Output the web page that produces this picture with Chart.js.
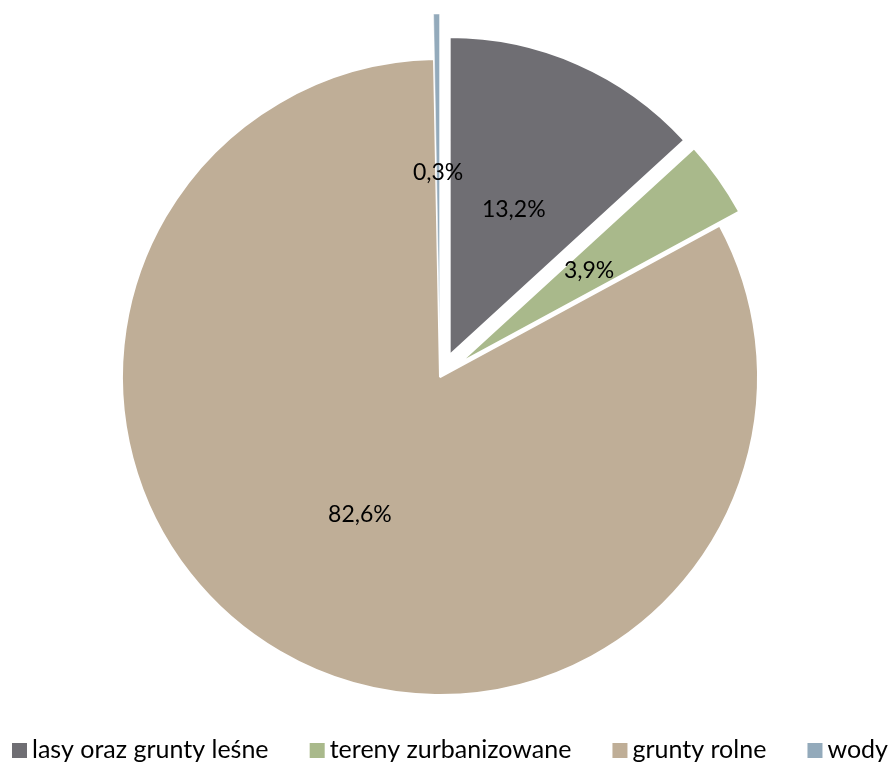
<!DOCTYPE html>
<html>
<head>
<meta charset="utf-8">
<script src="https://cdn.jsdelivr.net/npm/chart.js@4.4.1/dist/chart.umd.min.js"></script>
<style>
  html, body { margin: 0; padding: 0; background: #fff; }
  #wrap { width: 891px; height: 762px; }
</style>
</head>
<body>
<div id="wrap"><canvas id="c" width="891" height="762"></canvas></div>
<script>
// dane
const categories = ['lasy oraz grunty leśne', 'tereny zurbanizowane', 'grunty rolne', 'wody'];
const shares = [13.2, 3.9, 82.6, 0.3];
const valueLabels = ['13,2%', '3,9%', '82,6%', '0,3%'];
const sliceColors = ['#6f6e73', '#a9b98b', '#bfae97', '#93aabb'];
const sliceOffsets = [24, 24, 0, 45];
const sliceBorders = [2, 2, 2, 0.5];

const FONT = 'Lato, "Open Sans", sans-serif';

// wysuniecie wycinkow: przesuwamy srodek luku wzdluz jego dwusiecznej
// (wbudowany "offset" w v4 przesuwa tylko o 1/4 i powieksza promien)
const explode = {
  id: 'explode',
  afterDatasetUpdate(chart, args) {
    args.meta.data.forEach((arc, i) => {
      const mid = (arc.startAngle + arc.endAngle) / 2;
      arc.x += Math.cos(mid) * sliceOffsets[i];
      arc.y += Math.sin(mid) * sliceOffsets[i];
    });
  }
};

// etykiety w polowie promienia, liczone od wierzcholka wycinka
const sliceLabels = {
  id: 'sliceLabels',
  afterDatasetsDraw(chart) {
    const ctx = chart.ctx;
    const meta = chart.getDatasetMeta(0);
    ctx.save();
    ctx.font = '23px ' + FONT;
    ctx.fillStyle = '#000';
    ctx.textAlign = 'center';
    ctx.textBaseline = 'middle';
    meta.data.forEach((arc, i) => {
      const mid = (arc.startAngle + arc.endAngle) / 2;
      const r = arc.outerRadius / 2;
      ctx.fillText(valueLabels[i], arc.x + Math.cos(mid) * r, arc.y + Math.sin(mid) * r);
    });
    ctx.restore();
  }
};

// legenda w jednym wierszu, rozciagnieta na cala szerokosc (jak w Excelu)
const rowLegend = {
  id: 'rowLegend',
  afterDraw(chart) {
    const ctx = chart.ctx;
    const left = 12, right = 888, box = 15, gap = 5, baseline = 758;
    ctx.save();
    ctx.font = '25px ' + FONT;
    ctx.textBaseline = 'alphabetic';
    ctx.textAlign = 'left';
    const widths = chart.data.labels.map(t => box + gap + ctx.measureText(t).width);
    const total = widths.reduce((a, b) => a + b, 0);
    const spacing = (right - left - total) / (widths.length - 1);
    let x = left;
    chart.data.labels.forEach((t, i) => {
      ctx.fillStyle = chart.data.datasets[0].backgroundColor[i];
      ctx.fillRect(x, baseline - box, box, box);
      ctx.fillStyle = '#000';
      ctx.fillText(t, x + box + gap, baseline);
      x += widths[i] + spacing;
    });
    ctx.restore();
  }
};

new Chart(document.getElementById('c'), {
  type: 'pie',
  data: {
    labels: categories,
    datasets: [{
      data: shares,
      backgroundColor: sliceColors,
      borderColor: '#ffffff',
      borderWidth: sliceBorders,
      clip: false
    }]
  },
  options: {
    responsive: false,
    animation: false,
    radius: 318,
    layout: { padding: { top: 0, bottom: 8, left: 0, right: 11 } },
    plugins: {
      tooltip: { enabled: false },
      legend: { display: false }
    }
  },
  plugins: [explode, sliceLabels, rowLegend]
});
</script>
</body>
</html>
